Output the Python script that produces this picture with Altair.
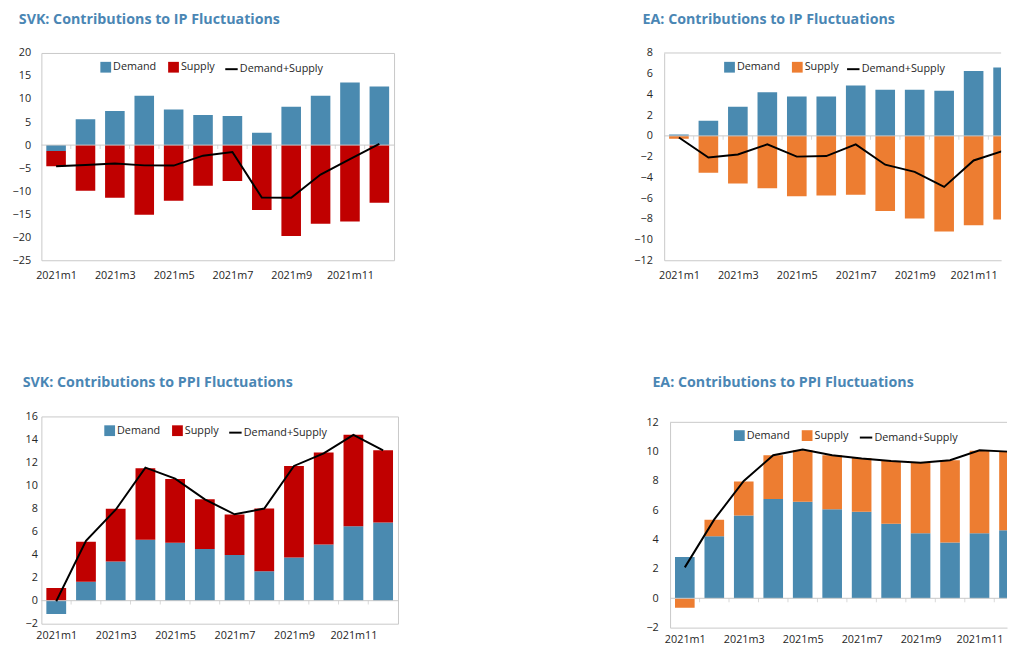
import altair as alt
import pandas as pd

months = list(range(1, 13))
tick_months = [1, 3, 5, 7, 9, 11]
bar_names = ["Demand", "Supply"]
line_name = "Demand+Supply"

svk_ip_demand = [-1.3, 5.6, 7.4, 10.7, 7.75, 6.55, 6.3, 2.7, 8.3, 10.7, 13.6, 12.7]
svk_ip_supply = [-3.3, -9.9, -11.45, -15.1, -12.1, -8.8, -7.8, -14.1, -19.75, -17.1, -16.6, -12.5]
svk_ip_total = [-4.6, -4.3, -4.0, -4.4, -4.45, -2.3, -1.5, -11.4, -11.45, -6.4, -3.05, 0.25]

ea_ip_demand = [0.13, 1.45, 2.8, 4.2, 3.8, 3.8, 4.85, 4.45, 4.45, 4.35, 6.25, 6.6]
ea_ip_supply = [-0.27, -3.55, -4.6, -5.05, -5.83, -5.76, -5.67, -7.25, -7.97, -9.23, -8.63, -8.06]
ea_ip_total = [-0.15, -2.08, -1.8, -0.82, -2.0, -1.95, -0.82, -2.78, -3.47, -4.92, -2.37, -1.45]

svk_ppi_demand = [-1.15, 1.65, 3.4, 5.3, 5.02, 4.48, 3.97, 2.55, 3.74, 4.88, 6.47, 6.78]
svk_ppi_supply = [1.1, 3.46, 4.58, 6.2, 5.55, 4.32, 3.52, 5.45, 7.96, 7.99, 7.93, 6.28]
svk_ppi_total = [-0.05, 5.2, 7.9, 11.55, 10.6, 8.8, 7.5, 8.0, 11.7, 12.8, 14.4, 13.05]

ea_ppi_demand = [2.82, 4.24, 5.64, 6.78, 6.58, 6.07, 5.91, 5.09, 4.44, 3.8, 4.44, 4.64]
ea_ppi_supply = [-0.64, 1.12, 2.32, 2.98, 3.52, 3.69, 3.65, 4.27, 4.8, 5.62, 5.63, 5.36]
ea_ppi_total = [2.11, 5.38, 8.0, 9.76, 10.15, 9.76, 9.53, 9.36, 9.24, 9.42, 10.09, 10.0]

BLUE = "#4a8ab0"
RED = "#c00000"
ORANGE = "#ed7d31"
GRID = "#c8c8c8"
TITLE_COLOR = "#4a86b4"
FONT = "Open Sans"
TEXT = "#262626"
HALF_BAR = 0.333


def panel(title, demand, supply, total, ydom, ystep, supply_color, width, height,
          xmax, min_extent, label_pad, x_label_pad, legend_x, line_legend_x, legend_y,
          title_dx, title_offset, framed):
    bars_df = pd.DataFrame({
        "month": months * 2,
        "series": ["Demand"] * 12 + ["Supply"] * 12,
        "value": demand + supply,
        "ord": [0] * 12 + [1] * 12,
    })
    line_df = pd.DataFrame({"month": months, "series": [line_name] * 12, "value": total})
    bound_df = pd.DataFrame({"b": [m + 0.5 for m in months[:-1]]})

    xscale = alt.Scale(domain=[0.5, xmax], nice=False, zero=False)
    yscale = alt.Scale(domain=ydom, nice=False, zero=False)
    cscale = alt.Scale(domain=bar_names, range=[BLUE, supply_color])
    sscale = alt.Scale(domain=[line_name], range=["black"])

    x_axis = alt.Axis(values=tick_months, labelExpr="'2021m' + datum.value", title=None,
                      ticks=False, grid=False, domain=not framed, domainColor=GRID,
                      labelPadding=x_label_pad, labelFontSize=11, labelFont=FONT,
                      labelColor=TEXT, labelFlush=False, labelOverlap=False)
    yvals = list(range(ydom[0], ydom[1] + 1, ystep))
    y_axis = alt.Axis(values=yvals, title=None, ticks=False, grid=False, domain=not framed,
                      domainColor=GRID, labelPadding=label_pad, labelFontSize=11,
                      labelFont=FONT, labelColor=TEXT, minExtent=min_extent,
                      labelOverlap=False, labelFlush=False)

    bar_legend = alt.Legend(
        orient="none", legendX=legend_x, legendY=legend_y, direction="horizontal",
        title=None, labelFont=FONT, labelFontSize=11, labelColor=TEXT,
        symbolType="square", symbolSize=120, symbolStrokeWidth=0, labelOffset=2,
        columnPadding=12,
    )
    line_legend = alt.Legend(
        orient="none", legendX=line_legend_x, legendY=legend_y, direction="horizontal",
        title=None, labelFont=FONT, labelFontSize=11, labelColor=TEXT,
        symbolType="stroke", symbolSize=160, symbolStrokeWidth=2, labelOffset=1,
    )

    bars = alt.Chart(bars_df).transform_stack(
        stack="value", groupby=["month"], as_=["y0", "y1"],
        sort=[alt.SortField("ord", order="ascending")],
    ).transform_calculate(
        x0="max(datum.month - %g, 0.5)" % HALF_BAR,
        x1="min(datum.month + %g, %g)" % (HALF_BAR, xmax),
    ).transform_filter("datum.x0 < datum.x1").mark_bar(clip=True).encode(
        x=alt.X("x0:Q", scale=xscale, axis=x_axis),
        x2="x1:Q",
        y=alt.Y("y0:Q", scale=yscale, axis=y_axis),
        y2="y1:Q",
        color=alt.Color("series:N", scale=cscale, legend=bar_legend),
    )
    zero = alt.Chart(pd.DataFrame({"z": [0]})).mark_rule(color=GRID, strokeWidth=1).encode(
        y=alt.Y("z:Q", scale=yscale, axis=y_axis)
    )
    ticks = alt.Chart(bound_df).transform_filter("datum.b < %g" % xmax).mark_tick(
        orient="vertical", size=4, yOffset=2, color=GRID, thickness=1, clip=True
    ).encode(
        x=alt.X("b:Q", scale=xscale, axis=x_axis),
        y=alt.datum(0, axis=y_axis),
    )
    line = alt.Chart(line_df).mark_line(strokeWidth=2, clip=True).encode(
        x=alt.X("month:Q", scale=xscale, axis=x_axis),
        y=alt.Y("value:Q", scale=yscale, axis=y_axis),
        stroke=alt.Stroke("series:N", scale=sscale, legend=line_legend),
    )
    layers = [bars, zero, ticks, line]
    if not framed:
        top = alt.Chart(pd.DataFrame({"t": [ydom[1]]})).mark_rule(color=GRID).encode(
            y=alt.Y("t:Q", scale=yscale, axis=y_axis)
        )
        layers.append(top)
    ch = alt.layer(*layers).properties(
        width=width, height=height,
        title=alt.TitleParams(text=title, anchor="start", frame="group", dx=title_dx,
                              offset=title_offset, fontSize=14.5, font=FONT,
                              fontWeight="bold", color=TITLE_COLOR),
    )
    if not framed:
        ch = ch.properties(view=alt.ViewBackground(stroke="transparent"))
    return ch


RIGHT_W = 343
RIGHT_XMAX = 0.5 + RIGHT_W / 30.0

tl = panel("SVK: Contributions to IP Fluctuations", svk_ip_demand, svk_ip_supply, svk_ip_total,
           [-25, 20], 5, RED, 359, 211, 12.5, 33, 11, 10, 60, 186, 9, -23, 20, True)
tr = panel("EA: Contributions to IP Fluctuations", ea_ip_demand, ea_ip_supply, ea_ip_total,
           [-12, 8], 2, ORANGE, RIGHT_W, 211, RIGHT_XMAX, 27, 12, 10, 61, 185, 9, -22, 20, False)
bl = panel("SVK: Contributions to PPI Fluctuations", svk_ppi_demand, svk_ppi_supply, svk_ppi_total,
           [-2, 16], 2, RED, 363, 211, 12.5, 19, 4, 6, 64, 190, 9, -19, 20, True)
br = panel("EA: Contributions to PPI Fluctuations", ea_ppi_demand, ea_ppi_supply, ea_ppi_total,
           [-2, 12], 2, ORANGE, RIGHT_W, 209, RIGHT_XMAX, 37, 12, 6, 65, 192, 8, -18, 26, False)

chart = alt.concat(tl, tr, bl, br, columns=2, align="none",
                   spacing={"row": 95, "column": 238}).resolve_scale(
    color="independent", stroke="independent", x="independent", y="independent"
).resolve_legend(color="independent", stroke="independent").properties(
    padding={"left": 0, "top": -2, "right": 0, "bottom": 0},
    background="white",
).configure_view(stroke=GRID)

chart.save("out.html", embed_options={"renderer": "svg", "actions": False})
